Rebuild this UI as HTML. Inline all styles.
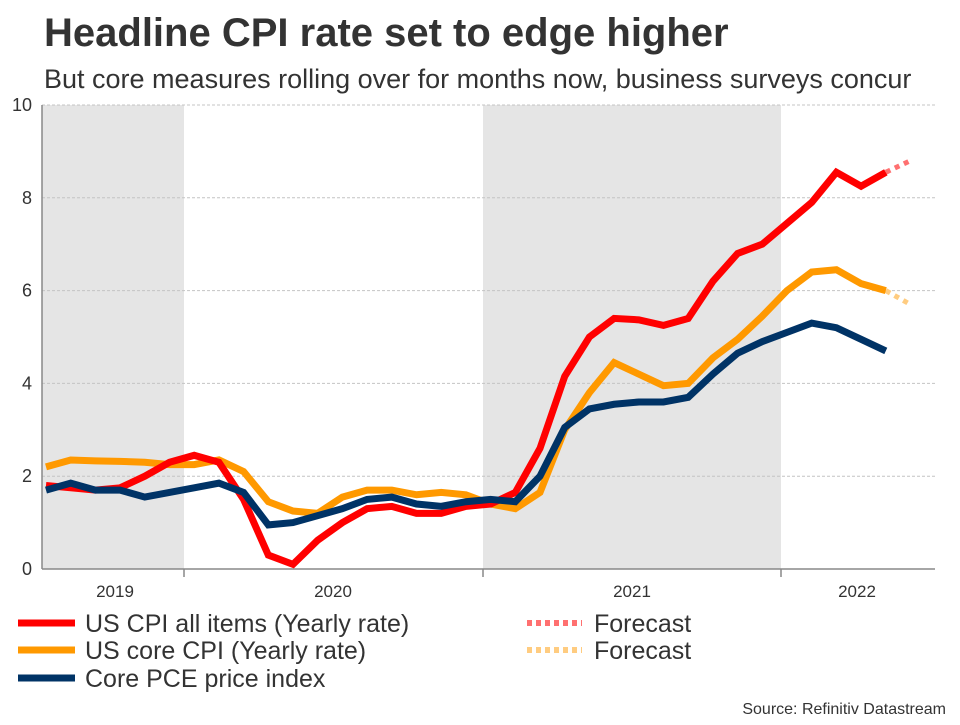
<!DOCTYPE html>
<html><head><meta charset="utf-8"><style>
body{margin:0;background:#fff;font-family:"Liberation Sans",Arial,sans-serif;}
svg text{font-family:"Liberation Sans",Arial,sans-serif;}
</style></head><body>
<svg width="960" height="720" viewBox="0 0 960 720" xmlns="http://www.w3.org/2000/svg">
<rect width="960" height="720" fill="#fff"/>
<text x="44" y="46" font-size="40" font-weight="bold" fill="#333">Headline CPI rate set to edge higher</text>
<text x="44" y="88" font-size="27" fill="#333">But core measures rolling over for months now, business surveys concur</text>
<g id="plot"></g>
<g>
<line x1="18" y1="623" x2="75" y2="623" stroke="#ff0000" stroke-width="7"/>
<text x="85" y="632" font-size="25" fill="#333">US CPI all items (Yearly rate)</text>
<line x1="18" y1="650" x2="75" y2="650" stroke="#ff9900" stroke-width="7"/>
<text x="85" y="659" font-size="25" fill="#333">US core CPI (Yearly rate)</text>
<line x1="18" y1="678" x2="75" y2="678" stroke="#003366" stroke-width="7"/>
<text x="85" y="687" font-size="25" fill="#333">Core PCE price index</text>
<line x1="527" y1="623" x2="582" y2="623" stroke="#ff7070" stroke-width="6" stroke-dasharray="5,4"/>
<text x="594" y="632" font-size="25" fill="#333">Forecast</text>
<line x1="527" y1="650" x2="582" y2="650" stroke="#ffcc80" stroke-width="6" stroke-dasharray="5,4"/>
<text x="594" y="659" font-size="25" fill="#333">Forecast</text>
</g>
<text x="946" y="714" font-size="16" fill="#333" text-anchor="end">Source: Refinitiv Datastream</text>
</svg>
<script>
const cpi=[1.8,1.75,1.7,1.75,2.0,2.3,2.45,2.3,1.5,0.3,0.1,0.62,1.0,1.3,1.35,1.2,1.2,1.35,1.4,1.65,2.6,4.15,5.0,5.4,5.37,5.25,5.4,6.2,6.8,7.0,7.45,7.9,8.55,8.25,8.55];
const coreCpi=[2.2,2.35,2.33,2.32,2.3,2.25,2.25,2.35,2.1,1.45,1.25,1.2,1.55,1.7,1.7,1.6,1.65,1.6,1.4,1.3,1.65,3.0,3.8,4.45,4.2,3.95,4.0,4.55,4.95,5.45,6.0,6.4,6.45,6.15,6.0];
const pce=[1.7,1.85,1.7,1.7,1.55,1.65,1.75,1.85,1.65,0.95,1.0,1.15,1.3,1.5,1.55,1.4,1.35,1.45,1.5,1.45,2.0,3.05,3.45,3.55,3.6,3.6,3.7,4.2,4.65,4.9,5.1,5.3,5.2,4.95,4.7];
const cpiForecast=[8.55,8.8];
const coreForecast=[6.0,5.7];
const yTicks=[0,2,4,6,8,10];
const years=["2019","2020","2021","2022"];
const NS="http://www.w3.org/2000/svg";
const g=document.getElementById('plot');
const X0=42,X1=935,Y0=569,Y1=105;
const xs=i=>46+i*24.7;
const ys=v=>Y0-(v/10)*(Y0-Y1);
function mk(t,a){const e=document.createElementNS(NS,t);for(const k in a)e.setAttribute(k,a[k]);g.appendChild(e);return e;}
const s1=mk('rect',{x:X0,y:Y1,width:184-X0,height:Y0-Y1,fill:'#e5e5e5'});


const s2=mk('rect',{x:483,y:Y1,width:781-483,height:Y0-Y1,fill:'#e5e5e5'});


yTicks.forEach(v=>{
 if(v>0){const l=mk('line',{x1:X0,x2:X1,y1:ys(v),y2:ys(v),stroke:'#c4c4c4','stroke-width':1,'stroke-dasharray':'3,2'});
 
 }
 const t=mk('text',{x:32,y:ys(v)+6,'font-size':18,fill:'#333','text-anchor':'end'});
 t.textContent=v;
 
 
});
const ax=mk('line',{x1:X0,x2:X0,y1:Y1,y2:Y0,stroke:'#888','stroke-width':1.5});


const bx=mk('line',{x1:X0,x2:X1,y1:Y0,y2:Y0,stroke:'#888','stroke-width':1.5});


[184,483,781].forEach(x=>{const l=mk('line',{x1:x,x2:x,y1:Y0,y2:Y0+8,stroke:'#888','stroke-width':1.5});
 
 });
const yc=[115,333,632,857];
years.forEach((y,i)=>{const t=mk('text',{x:yc[i],y:597,'font-size':17,fill:'#333','text-anchor':'middle'});
 t.textContent=y;
 
 });
function line(data,start,color,name,dash){
 const p=mk('polyline',{points:data.map((v,i)=>xs(i+start)+','+ys(v)).join(' '),fill:'none',stroke:color,'stroke-width':dash?5:7,'stroke-linejoin':'miter'});
 if(dash)p.setAttribute('stroke-dasharray','5,5');
 
 
}
const last=cpi.length-1;
line(cpiForecast,last,'#ff7070','cpi-forecast-line',true);
line(coreForecast,last,'#ffcc80','core-cpi-forecast-line',true);
line(coreCpi,0,'#ff9900','core-cpi-line');
line(cpi,0,'#ff0000','cpi-line');
line(pce,0,'#003366','core-pce-line');
</script>
</body></html>
